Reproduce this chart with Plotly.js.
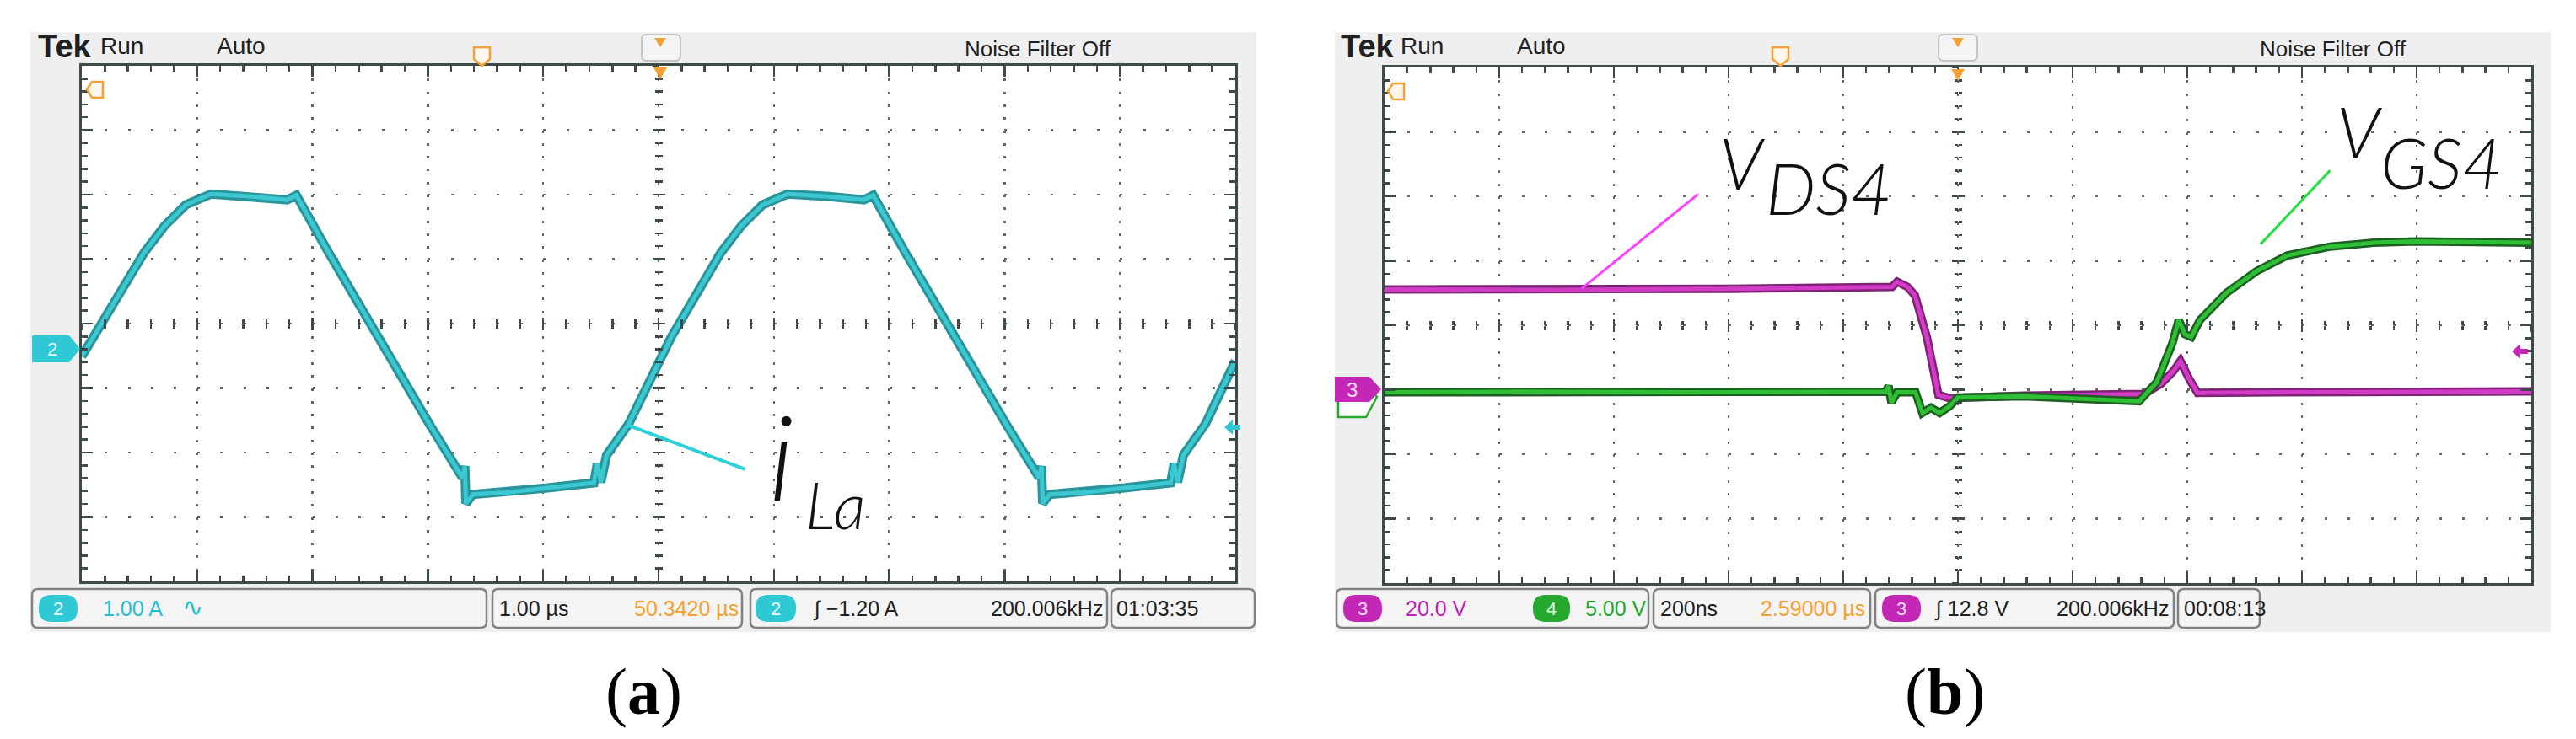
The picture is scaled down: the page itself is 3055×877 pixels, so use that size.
<!DOCTYPE html>
<html><head><meta charset="utf-8">
<script src="https://cdn.plot.ly/plotly-3.0.1.min.js"></script>
<style>html,body{margin:0;padding:0;background:#fff;} #chart{width:3055px;height:877px;}</style>
</head><body><div id="chart"></div>
<script>
// ================= DATA =================
// Panel (a): inductor current i_La  (time in µs, 1 µs/div; current in A, 1 A/div)
const ilaTime = [0, 0.54, 0.72, 0.90, 1.12, 1.48, 1.78, 1.86, 1.92, 2.14, 3.02, 3.30, 3.32, 3.33, 3.39, 3.68, 4.04, 4.44, 4.47, 4.50, 4.55, 4.74, 5.11,
                 5.54, 5.72, 5.90, 6.12, 6.48, 6.78, 6.86, 6.92, 7.14, 8.02, 8.30, 8.32, 8.33, 8.39, 8.68, 9.04, 9.44, 9.47, 9.50, 9.55, 9.74, 10.0];
const ilaCurrent = [-0.13, 1.48, 1.90, 2.22, 2.39, 2.35, 2.30, 2.37, 2.18, 1.48, -1.20, -2.01, -1.83, -2.41, -2.27, -2.24, -2.17, -2.09, -1.79, -2.08, -1.66, -1.18, 0.17,
                    1.48, 1.90, 2.22, 2.39, 2.35, 2.30, 2.37, 2.18, 1.48, -1.20, -2.01, -1.83, -2.41, -2.27, -2.24, -2.17, -2.09, -1.79, -2.08, -1.66, -1.18, -0.20];

// Panel (b): drain-source voltage V_DS4 (ch3, 20 V/div) and gate voltage V_GS4 (ch4, 5 V/div), time in ns (200 ns/div)
const vdsTime = [0, 300, 600, 885, 894, 912, 925, 946, 966, 985, 1115, 1325, 1354, 1376, 1388, 1404, 1418, 1556, 2000];
const vdsVolt = [31.1, 31.0, 31.3, 31.9, 33.5, 31.9, 29.3, 16.2, -1.6, -2.6, -1.8, -1.3, 1.8, 5.8, 8.9, 3.1, -1.0, -0.8, -0.5];
const vgsTime = [0, 232, 526, 821, 875, 879, 884, 894, 926, 938, 953, 968, 985, 1000, 1115, 1316, 1347, 1374, 1385, 1396, 1407, 1422, 1468, 1521, 1574, 1649, 1725, 1800, 2000];
const vgsVolt = [0.3, 0.35, 0.3, 0.35, 0.35, 0.8, -0.5, 0.3, 0.3, -1.3, -0.9, -1.3, -0.8, -0.1, 0.0, -0.4, 1.1, 4.1, 5.9, 4.8, 4.6, 5.9, 8.0, 9.7, 10.9, 11.6, 11.9, 12.0, 11.9];

// Screen scales (10 x 8 divisions)
const aTimeRange = [0, 10];          // µs
const aCurrentRange = [-3.62, 4.38]; // A  (ground 0.38 div below centre)
const aCurrentTick0 = 0.38;
const bTimeRange = [0, 2000];        // ns
const bVdsRange = [-60, 100];        // V  (ch3 ground 1 div below centre)
const bVgsRange = [-14.5, 25.5];     // V  (ch4 ground 1.1 div below centre)

// Readout texts
const headerA = ['Tek', 'Run', 'Auto', 'Noise Filter Off'];
const statusA = ['1.00 A', '∿', '1.00 µs', '50.3420 µs', '∫ −1.20 A', '200.006kHz', '01:03:35'];
const statusB = ['20.0 V', '5.00 V', '200ns', '2.59000 µs', '∫ 12.8 V', '200.006kHz', '00:08:13'];
const captions = ['(<b>a</b>)', '(<b>b</b>)'];

// ================= HELPERS =================
const W = 3055, H = 877;
const px = x => x / W;
const py = y => 1 - y / H;

const frameCol = '#3c4a4a';
function scopeAxis(o) {
  return Object.assign({
    showline: true, linecolor: frameCol, linewidth: 3, mirror: 'ticks',
    ticks: 'inside', ticklen: 13, tickwidth: 2.5, tickcolor: frameCol,
    showticklabels: false, showgrid: true, gridcolor: '#666666', gridwidth: 2.5,
    zeroline: false, fixedrange: true
  }, o);
}
function centerAxis(o, side) {
  return Object.assign({
    anchor: 'free', showline: false, showgrid: false, zeroline: false, showticklabels: false,
    ticks: side, ticklen: 7, tickwidth: 2.5, tickcolor: frameCol, fixedrange: true
  }, o);
}
function rrect(x0, y0, x1, y1, r) {
  const X = px, Y = py;
  return `M${X(x0 + r)},${Y(y0)} L${X(x1 - r)},${Y(y0)} Q${X(x1)},${Y(y0)} ${X(x1)},${Y(y0 + r)} L${X(x1)},${Y(y1 - r)} Q${X(x1)},${Y(y1)} ${X(x1 - r)},${Y(y1)} L${X(x0 + r)},${Y(y1)} Q${X(x0)},${Y(y1)} ${X(x0)},${Y(y1 - r)} L${X(x0)},${Y(y0 + r)} Q${X(x0)},${Y(y0)} ${X(x0 + r)},${Y(y0)} Z`;
}
function poly(pts) {
  return 'M' + pts.map(p => px(p[0]) + ',' + py(p[1])).join(' L') + ' Z';
}
function pshape(path, fill, line, lw, layer) {
  return {type: 'path', xref: 'paper', yref: 'paper', path, fillcolor: fill,
          line: {color: line || 'rgba(0,0,0,0)', width: lw || 0}, layer: layer || 'above'};
}
function rect(x0, y0, x1, y1, fill, line, lw, layer) {
  return {type: 'rect', xref: 'paper', yref: 'paper', x0: px(x0), x1: px(x1), y0: py(y1), y1: py(y0),
          fillcolor: fill, line: {color: line || 'rgba(0,0,0,0)', width: lw || 0}, layer: layer || 'below'};
}
function txt(x, y, text, size, color, opts) {
  return Object.assign({xref: 'paper', yref: 'paper', x: px(x), y: py(y), text, showarrow: false,
    xanchor: 'left', yanchor: 'middle',
    font: {family: 'Liberation Sans, Arial, sans-serif', size, color}}, opts || {});
}

// ================= TRACES =================
const cyanDark = '#2a949c', cyan = '#3cc8d0';
const magDark = '#7d2274', mag = '#d13bc6';
const grnDark = '#1d5f22', grn = '#2fbf34';

const traces = [
  {x: ilaTime, y: ilaCurrent, xaxis: 'x', yaxis: 'y', mode: 'lines', line: {color: cyanDark, width: 11}, hoverinfo: 'skip'},
  {x: ilaTime, y: ilaCurrent, xaxis: 'x', yaxis: 'y', mode: 'lines', line: {color: cyan, width: 5}, name: 'i_La'},
  {x: vgsTime, y: vgsVolt, xaxis: 'x2', yaxis: 'y3', mode: 'lines', line: {color: grnDark, width: 10}, hoverinfo: 'skip'},
  {x: vgsTime, y: vgsVolt, xaxis: 'x2', yaxis: 'y3', mode: 'lines', line: {color: grn, width: 5}, name: 'V_GS4'},
  {x: vdsTime, y: vdsVolt, xaxis: 'x2', yaxis: 'y2', mode: 'lines', line: {color: magDark, width: 10}, hoverinfo: 'skip'},
  {x: vdsTime, y: vdsVolt, xaxis: 'x2', yaxis: 'y2', mode: 'lines', line: {color: mag, width: 5}, name: 'V_DS4'},
];
// empty carriers for the centre-line tick axes
[['x3', 'y'], ['x4', 'y'], ['x', 'y4'], ['x', 'y5'], ['x5', 'y2'], ['x6', 'y2'], ['x2', 'y6'], ['x2', 'y7']].forEach(p =>
  traces.push({x: [], y: [], xaxis: p[0], yaxis: p[1], mode: 'lines', hoverinfo: 'skip', showlegend: false}));

// ================= LAYOUT =================
const aMinorX = {ticks: 'inside', ticklen: 7, tickwidth: 2.5, tickcolor: frameCol, dtick: 0.2, tick0: 0};
const aMinorY = {ticks: 'inside', ticklen: 7, tickwidth: 2.5, tickcolor: frameCol, dtick: 0.2, tick0: aCurrentTick0};
const bMinorX = {ticks: 'inside', ticklen: 7, tickwidth: 2.5, tickcolor: frameCol, dtick: 40, tick0: 0};
const bMinorY = {ticks: 'inside', ticklen: 7, tickwidth: 2.5, tickcolor: frameCol, dtick: 4, tick0: 0};

const layout = {
  width: W, height: H, margin: {l: 0, r: 0, t: 0, b: 0},
  paper_bgcolor: '#ffffff', plot_bgcolor: '#ffffff', showlegend: false,
  xaxis: scopeAxis({domain: [px(97), px(1465)], range: aTimeRange, tick0: 0, dtick: 1, minor: aMinorX, griddash: '3px,12.3px', anchor: 'y'}),
  yaxis: scopeAxis({domain: [py(690), py(78)], range: aCurrentRange, tick0: aCurrentTick0, dtick: 1, minor: aMinorY, griddash: '3px,24.36px', anchor: 'x'}),
  xaxis2: scopeAxis({domain: [px(1642), px(3002)], range: bTimeRange, tick0: 0, dtick: 200, minor: bMinorX, griddash: '3px,12.3px', anchor: 'y2'}),
  yaxis2: scopeAxis({domain: [py(692), py(80)], range: bVdsRange, tick0: 0, dtick: 20, minor: bMinorY, griddash: '3px,24.2px', anchor: 'x2'}),
  yaxis3: {overlaying: 'y2', anchor: 'x2', range: bVgsRange, visible: false, fixedrange: true},
  // centre line tick marks
  xaxis3: centerAxis({overlaying: 'x', position: py(384), range: aTimeRange, tick0: 0, dtick: 1, minor: {ticks: 'inside', ticklen: 5, tickwidth: 2.5, tickcolor: frameCol, dtick: 0.2, tick0: 0}}, 'inside'),
  xaxis4: centerAxis({overlaying: 'x', position: py(384), range: aTimeRange, tick0: 0, dtick: 1, minor: {ticks: 'outside', ticklen: 5, tickwidth: 2.5, tickcolor: frameCol, dtick: 0.2, tick0: 0}}, 'outside'),
  yaxis4: centerAxis({overlaying: 'y', position: px(781), range: aCurrentRange, tick0: aCurrentTick0, dtick: 1, minor: {ticks: 'inside', ticklen: 4, tickwidth: 2.5, tickcolor: frameCol, dtick: 0.2, tick0: aCurrentTick0}}, 'inside'),
  yaxis5: centerAxis({overlaying: 'y', position: px(781), range: aCurrentRange, tick0: aCurrentTick0, dtick: 1, minor: {ticks: 'outside', ticklen: 4, tickwidth: 2.5, tickcolor: frameCol, dtick: 0.2, tick0: aCurrentTick0}}, 'outside'),
  xaxis5: centerAxis({overlaying: 'x2', position: py(386), range: bTimeRange, tick0: 0, dtick: 200, minor: {ticks: 'inside', ticklen: 5, tickwidth: 2.5, tickcolor: frameCol, dtick: 40, tick0: 0}}, 'inside'),
  xaxis6: centerAxis({overlaying: 'x2', position: py(386), range: bTimeRange, tick0: 0, dtick: 200, minor: {ticks: 'outside', ticklen: 5, tickwidth: 2.5, tickcolor: frameCol, dtick: 40, tick0: 0}}, 'outside'),
  yaxis6: centerAxis({overlaying: 'y2', position: px(2322), range: bVdsRange, tick0: 0, dtick: 20, minor: {ticks: 'inside', ticklen: 4, tickwidth: 2.5, tickcolor: frameCol, dtick: 4, tick0: 0}}, 'inside'),
  yaxis7: centerAxis({overlaying: 'y2', position: px(2322), range: bVdsRange, tick0: 0, dtick: 20, minor: {ticks: 'outside', ticklen: 4, tickwidth: 2.5, tickcolor: frameCol, dtick: 4, tick0: 0}}, 'outside'),
  shapes: [],
  annotations: []
};

const S = layout.shapes, A = layout.annotations;
const frameFill = '#efefef', boxFill = '#f4f4f4', boxLine = '#808080';
const orange = '#f5a030', cyanTxt = '#1fc0cf', magTxt = '#c21fb4', grnTxt = '#1fa82a';

// ---- panel frames ----
S.push(rect(36, 38, 1490, 750, frameFill));
S.push(rect(97, 78, 1465, 690, '#ffffff'));
S.push(rect(1583, 38, 3025, 750, frameFill));
S.push(rect(1642, 80, 3002, 692, '#ffffff'));

// ---- status boxes ----
[[38, 577], [584, 880], [890, 1313], [1318, 1488]].forEach(b => S.push(pshape(rrect(b[0], 699, b[1], 745, 7), boxFill, boxLine, 2.5, 'below')));
[[1585, 1955], [1961, 2218], [2224, 2578], [2583, 2680]].forEach(b => S.push(pshape(rrect(b[0], 699, b[1], 745, 7), boxFill, boxLine, 2.5, 'below')));
// channel pills
S.push(pshape(rrect(46, 706, 92, 738, 15), '#2fc9d6', null, 0));
S.push(pshape(rrect(896, 706, 944, 738, 15), '#2fc9d6', null, 0));
S.push(pshape(rrect(1593, 706, 1639, 738, 15), '#c227b5', null, 0));
S.push(pshape(rrect(1818, 706, 1862, 738, 15), '#26a82e', null, 0));
S.push(pshape(rrect(2232, 706, 2278, 738, 15), '#c227b5', null, 0));

// ---- header trigger brackets & markers ----
S.push(pshape(rrect(761, 41, 807, 72, 6), '#f4f4f4', '#c4c4c4', 2, 'below'));
S.push(pshape(rrect(2299, 41, 2345, 72, 6), '#f4f4f4', '#c4c4c4', 2, 'below'));
S.push(pshape(poly([[776, 45], [790, 45], [783, 56]]), orange));
S.push(pshape(poly([[2315, 45], [2329, 45], [2322, 56]]), orange));
S.push(pshape(poly([[775, 80], [791, 80], [783, 94]]), orange));
S.push(pshape(poly([[2314, 82], [2330, 82], [2322, 96]]), orange));
S.push(pshape(poly([[562, 56], [581, 56], [581, 70], [571.5, 78], [562, 70]]), '#fff7ee', orange, 2.5));
S.push(pshape(poly([[2102, 56], [2121, 56], [2121, 70], [2111.5, 78], [2102, 70]]), '#fff7ee', orange, 2.5));
S.push(pshape(poly([[103, 106], [109, 97], [122, 97], [122, 116], [109, 116]]), '#fff7ee', orange, 2.5));
S.push(pshape(poly([[1646, 108], [1652, 99], [1665, 99], [1665, 118], [1652, 118]]), '#fff7ee', orange, 2.5));

// ---- channel ground markers ----
S.push(pshape(poly([[38, 398], [82, 398], [95, 414], [82, 430], [38, 430]]), '#2fc9d6'));
S.push(pshape(poly([[1587, 456], [1620, 456], [1633, 471], [1620, 495], [1587, 495]]), '#ffffff', '#26a82e', 2.5));
S.push(pshape(poly([[1583, 447], [1624, 447], [1638, 462], [1624, 477], [1583, 477]]), '#c227b5'));
// trigger level markers on right edge
S.push(pshape(poly([[1452, 507], [1462, 498], [1462, 504], [1471, 504], [1471, 510], [1462, 510], [1462, 516]]), '#2fc9d6'));
S.push(pshape(poly([[2979, 417], [2989, 408], [2989, 414], [2998, 414], [2998, 420], [2989, 420], [2989, 426]]), '#c227b5'));

// ---- pointer lines (data space) ----
S.push({type: 'line', xref: 'x', yref: 'y', x0: 4.74, y0: -1.20, x1: 5.75, y1: -1.88, line: {color: '#2cd0d8', width: 4}, layer: 'above'});
S.push({type: 'line', xref: 'x2', yref: 'y2', x0: 344, y0: 31.4, x1: 547, y1: 60.7, line: {color: '#ff40ff', width: 3}, layer: 'above'});
S.push({type: 'line', xref: 'x2', yref: 'y3', x0: 1528, y0: 11.8, x1: 1649, y1: 17.5, line: {color: '#22e040', width: 3}, layer: 'above'});

// ---- header texts ----
[[0, 43, 1588], [1, 117, 1659], [2, 255, 1797]].forEach(h => {
  const bold = h[0] === 0;
  [h[1], h[2]].forEach(x => A.push(txt(x, 55, bold ? '<b>' + headerA[0] + '</b>' : headerA[h[0]], bold ? 38 : 28, '#202020')));
});
A.push(txt(1320, 58, headerA[3], 26, '#202020', {xanchor: 'right'}));
A.push(txt(2856, 58, headerA[3], 26, '#202020', {xanchor: 'right'}));

// ---- status texts (a) ----
A.push(txt(69, 722, '2', 22, '#e8fbfd', {xanchor: 'center'}));
A.push(txt(120, 722, statusA[0], 25, cyanTxt));
A.push(txt(214, 720, statusA[1], 30, cyanTxt));
A.push(txt(590, 722, statusA[2], 25, '#202020'));
A.push(txt(878, 722, statusA[3], 25, orange, {xanchor: 'right'}));
A.push(txt(920, 722, '2', 22, '#e8fbfd', {xanchor: 'center'}));
A.push(txt(962, 722, statusA[4], 25, '#202020'));
A.push(txt(1310, 722, statusA[5], 25, '#202020', {xanchor: 'right'}));
A.push(txt(1322, 722, statusA[6], 25, '#202020'));
// ---- status texts (b) ----
A.push(txt(1616, 722, '3', 22, '#f8def5', {xanchor: 'center'}));
A.push(txt(1665, 722, statusB[0], 25, magTxt));
A.push(txt(1840, 722, '4', 22, '#e2f7e3', {xanchor: 'center'}));
A.push(txt(1878, 722, statusB[1], 25, grnTxt));
A.push(txt(1967, 722, statusB[2], 25, '#202020'));
A.push(txt(2214, 722, statusB[3], 25, orange, {xanchor: 'right'}));
A.push(txt(2255, 722, '3', 22, '#f8def5', {xanchor: 'center'}));
A.push(txt(2292, 722, statusB[4], 25, '#202020'));
A.push(txt(2574, 722, statusB[5], 25, '#202020', {xanchor: 'right'}));
A.push(txt(2588, 722, statusB[6], 25, '#202020'));
// channel marker digits
A.push(txt(62, 414, '2', 22, '#e8fbfd', {xanchor: 'center'}));
A.push(txt(1603, 462, '3', 24, '#f8def5', {xanchor: 'center'}));

// ---- signal labels ----
const lblFont = 'Lato, Open Sans, Liberation Sans, sans-serif';
function lbl(x, y, t, size) {
  return txt(x, y, t, size, '#111111', {font: {family: lblFont, size, color: '#111111', style: 'italic', weight: 300}});
}
A.push(lbl(910, 540, 'i', 140));
A.push(lbl(953, 598, 'La', 76));
A.push(lbl(2037, 192, 'V', 84));
A.push(lbl(2092, 222, 'DS4', 84));
A.push(lbl(2769, 156, 'V', 84));
A.push(lbl(2821, 192, 'GS4', 82));

// ---- captions ----
A.push(txt(763, 820, captions[0], 78, '#000000', {xanchor: 'center', font: {family: 'Liberation Serif, Times New Roman, serif', size: 78, color: '#000'}}));
A.push(txt(2306, 820, captions[1], 78, '#000000', {xanchor: 'center', font: {family: 'Liberation Serif, Times New Roman, serif', size: 78, color: '#000'}}));

Plotly.newPlot('chart', traces, layout, {displayModeBar: false, staticPlot: true});
</script>
</body></html>
